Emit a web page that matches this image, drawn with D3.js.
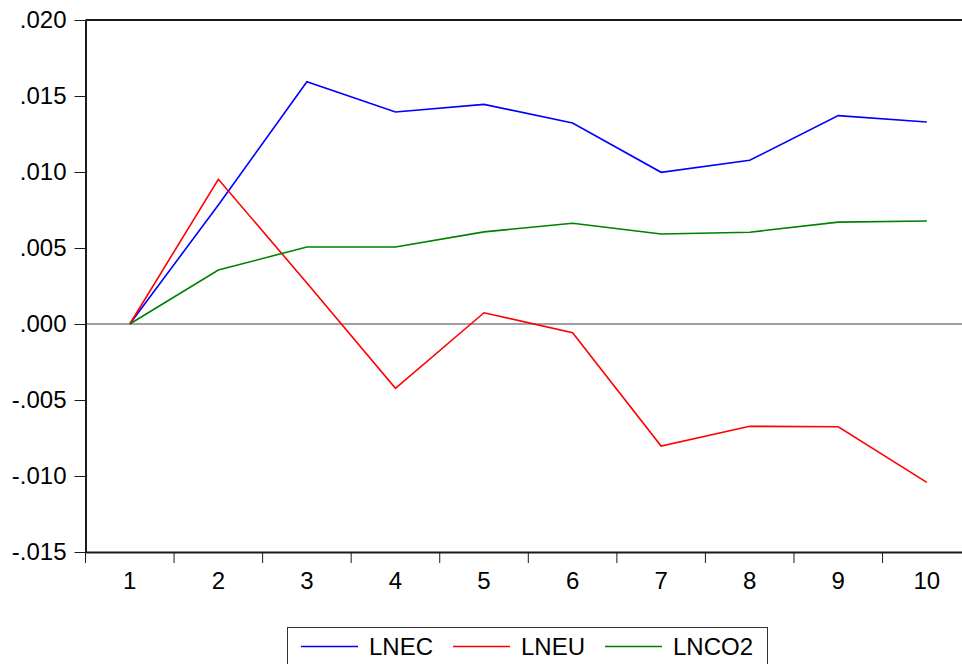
<!DOCTYPE html>
<html>
<head>
<meta charset="utf-8">
<script src="https://cdn.jsdelivr.net/npm/d3@7"></script>
<style>
html,body{margin:0;padding:0;background:#fff;overflow:hidden;}
svg{display:block;}
text{font-family:"Liberation Sans",Arial,sans-serif;}
</style>
</head>
<body>
<svg id="chart" width="962" height="664"></svg>
<script>
const periods = [1,2,3,4,5,6,7,8,9,10];
const LNEC  = [0, 0.00783, 0.01594, 0.01395, 0.01445, 0.01322, 0.00998, 0.01077, 0.01371, 0.01329];
const LNEU  = [0, 0.00952, 0.00270, -0.00423, 0.00074, -0.00057, -0.00803, -0.00673, -0.00676, -0.01042];
const LNCO2 = [0, 0.00355, 0.00507, 0.00507, 0.00606, 0.00663, 0.00592, 0.00604, 0.00670, 0.00678];
const yTicks = [0.020, 0.015, 0.010, 0.005, 0.000, -0.005, -0.010, -0.015];
const yTickLabels = [".020", ".015", ".010", ".005", ".000", "-.005", "-.010", "-.015"];
const seriesNames = ["LNEC", "LNEU", "LNCO2"];
const seriesColors = ["#0000ff", "#ff0000", "#008000"];
const seriesData = [LNEC, LNEU, LNCO2];

(function(){
const svg = d3.select("#chart");
const pLeft = 85.5, pTop = 20, pBottom = 552, band = 88.56;
const pRight = pLeft + band * periods.length;

const x = d3.scaleBand().domain(periods).range([pLeft, pRight]).paddingInner(0).paddingOuter(0);
const y = d3.scaleLinear().domain([-0.015, 0.020]).range([pBottom, pTop]);

// zero line
svg.append("line")
  .attr("x1", pLeft).attr("x2", pRight)
  .attr("y1", y(0)).attr("y2", y(0))
  .attr("stroke", "#808080").attr("stroke-width", 1.6);

// series lines
const line = d3.line()
  .x((d, i) => x(periods[i]) + x.bandwidth() / 2)
  .y(d => y(d));
seriesData.forEach((s, k) => {
  svg.append("path")
    .attr("d", line(s))
    .attr("fill", "none")
    .attr("stroke", seriesColors[k])
    .attr("stroke-width", 1.6)
    .attr("stroke-linejoin", "miter");
});

// top frame line
svg.append("line")
  .attr("x1", pLeft).attr("x2", pRight)
  .attr("y1", pTop).attr("y2", pTop)
  .attr("stroke", "#1a1a1a").attr("stroke-width", 2);

// Y axis
const yAxis = d3.axisLeft(y)
  .tickValues(yTicks)
  .tickFormat((d, i) => yTickLabels[i])
  .tickSizeInner(11).tickSizeOuter(0).tickPadding(8);
const gy = svg.append("g").attr("transform", `translate(${pLeft},0)`).call(yAxis);
gy.select(".domain").attr("stroke", "#1a1a1a").attr("stroke-width", 2);
gy.selectAll(".tick line").attr("stroke", "#1a1a1a").attr("stroke-width", 1);
gy.selectAll(".tick text").attr("font-size", 24).attr("fill", "#000")
  .attr("font-family", "Liberation Sans, Arial, sans-serif").attr("dy", "0.33em");

// X axis
const xAxis = d3.axisBottom(x).tickSize(0).tickPadding(20);
const gx = svg.append("g").attr("transform", `translate(0,${pBottom})`).call(xAxis);
gx.select(".domain").attr("stroke", "#1a1a1a").attr("stroke-width", 2);
gx.selectAll(".tick text").attr("font-size", 24).attr("fill", "#000")
  .attr("font-family", "Liberation Sans, Arial, sans-serif");
const sepPositions = periods.map(p => x(p)).concat([pRight]);
gx.selectAll("line.sep").data(sepPositions).enter().append("line")
  .attr("class", "sep")
  .attr("x1", d => d).attr("x2", d => d)
  .attr("y1", 0).attr("y2", 11)
  .attr("stroke", "#1a1a1a").attr("stroke-width", 1);

// Legend
const lg = svg.append("g");
lg.append("rect")
  .attr("x", 287.5).attr("y", 627.5).attr("width", 480).attr("height", 60)
  .attr("fill", "#fff").attr("stroke", "#333").attr("stroke-width", 1);
const legendX = [301, 453, 605];
seriesNames.forEach((n, k) => {
  lg.append("line")
    .attr("x1", legendX[k]).attr("x2", legendX[k] + 57)
    .attr("y1", 646.5).attr("y2", 646.5)
    .attr("stroke", seriesColors[k]).attr("stroke-width", 1.6);
  lg.append("text")
    .attr("x", legendX[k] + 68).attr("y", 654.5)
    .attr("font-size", 24).attr("fill", "#000")
    .text(n);
});
})();
</script>
</body>
</html>
